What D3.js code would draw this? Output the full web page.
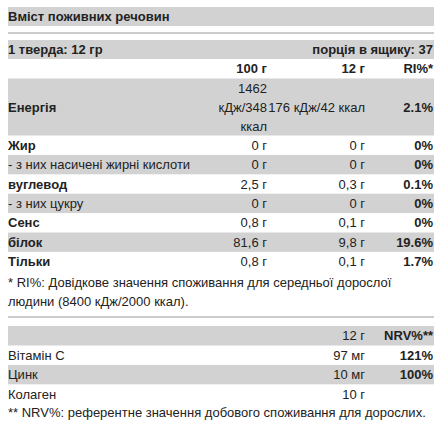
<!DOCTYPE html>
<html><head><meta charset="utf-8">
<script src="https://cdn.jsdelivr.net/npm/d3@7"></script>
<style>body{margin:0;background:#fff}text{font-family:"Liberation Sans",Arial,sans-serif;font-size:13px;fill:#222}</style>
</head><body><svg id="c" width="442" height="430"></svg>
<script>
const title = "Вміст поживних речовин";
const servingLabel = "1 тверда: 12 гр";
const servingsLabel = "порція в ящику: 37";
const headers = ["100 г", "12 г", "RI%*"];
const nutrients = ["Енергія", "Жир", "- з них насичені жирні кислоти", "вуглевод", "- з них цукру", "Сенс", "білок", "Тільки"];
const per100 = [["1462", "кДж/348", "ккал"], "0 г", "0 г", "2,5 г", "0 г", "0,8 г", "81,6 г", "0,8 г"];
const per12 = ["176 кДж/42 ккал", "0 г", "0 г", "0,3 г", "0 г", "0,1 г", "9,8 г", "0,1 г"];
const riPct = ["2.1%", "0%", "0%", "0.1%", "0%", "0%", "19.6%", "1.7%"];
const boldName = [true, true, false, true, false, true, true, true];
const note1 = ["* RI%: Довідкове значення споживання для середньої дорослої", "людини (8400 кДж/2000 ккал)."];
const headers2 = ["12 г", "NRV%**"];
const vitamins = ["Вітамін С", "Цинк", "Колаген"];
const vitAmount = ["97 мг", "10 мг", "10 г"];
const nrvPct = ["121%", "100%", ""];
const note2 = "** NRV%: референтне значення добового споживання для дорослих.";

const svg = d3.select("#c");
const grey = "#d2d2d2";
const L = 8, R = 434, W = R - L;
const x100 = 267, x12 = 365, xRi = 433;
const rh = 19.4;

function band(y, h){ svg.append("rect").attr("x", L).attr("y", y).attr("width", W).attr("height", h).attr("fill", grey); }
function txt(x, y, s, anchor, bold){ svg.append("text").attr("x", x).attr("y", y).attr("text-anchor", anchor || "start").attr("font-weight", bold ? "bold" : null).text(s); }

band(7, 19); txt(L, 21, title, "start", true);
svg.append("line").attr("x1", L).attr("x2", R).attr("y1", 33).attr("y2", 33).attr("stroke", "#999");
band(40, 19); txt(L, 54, servingLabel, "start", true); txt(xRi, 54, servingsLabel, "end", true);
txt(x100, 73, headers[0], "end", true); txt(x12, 73, headers[1], "end", true); txt(xRi, 73, headers[2], "end", true);

// row layout
const heights = nutrients.map((d, i) => Array.isArray(per100[i]) ? 57 : rh);
const tops = []; let acc = 78.5; heights.forEach(h => { tops.push(acc); acc += h; });
nutrients.forEach((n, i) => {
  const y = tops[i], h = heights[i], mid = y + h / 2 + 4.5;
  if (i % 2 === 0) band(y, h);
  txt(L, mid, n, "start", boldName[i]);
  if (Array.isArray(per100[i])) per100[i].forEach((s, k) => txt(x100, mid + (k - 1) * 19, s, "end"));
  else txt(x100, mid, per100[i], "end");
  txt(x12, mid, per12[i], "end");
  txt(xRi, mid, riPct[i], "end", true);
});
note1.forEach((s, k) => txt(L, 287 + k * 19, s, "start"));
svg.append("line").attr("x1", L).attr("x2", R).attr("y1", 317).attr("y2", 317).attr("stroke", "#999");
band(326, 19.5); txt(x12, 340, headers2[0], "end"); txt(xRi, 340, headers2[1], "end", true);
vitamins.forEach((v, i) => {
  const y = 345.5 + i * rh, mid = y + rh / 2 + 4.5;
  if (i % 2 === 1) band(y, rh);
  txt(L, mid, v); txt(x12, mid, vitAmount[i], "end"); txt(xRi, mid, nrvPct[i], "end", true);
});
txt(L, 417, note2);
</script></body></html>
